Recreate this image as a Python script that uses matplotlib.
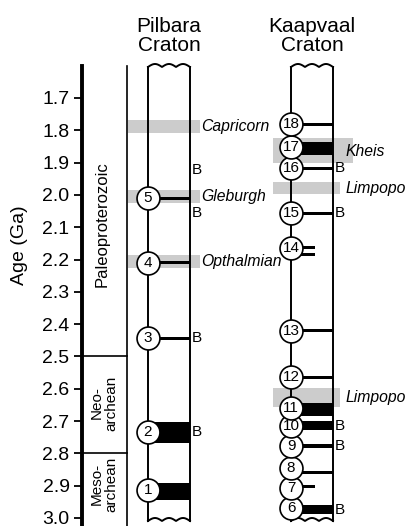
import numpy as np
import matplotlib.pyplot as plt

plt.rcParams['font.family'] = ['Liberation Sans', 'DejaVu Sans']

# age axis
tick_ages = [1.7, 1.8, 1.9, 2.0, 2.1, 2.2, 2.3, 2.4, 2.5, 2.6, 2.7, 2.8, 2.9, 3.0]
era_bounds = [2.5, 2.8]

# Pilbara craton events
pil_num = [1, 2, 3, 4, 5]
pil_age = [2.914, 2.734, 2.443, 2.21, 2.01]
pil_bar_age = [2.918, 2.736, 2.443, 2.21, 2.01]
pil_bar_thick = [0.053, 0.065, 0.009, 0.009, 0.009]
pil_b_ages = [1.922, 2.056, 2.443, 2.734]

# Kaapvaal craton events
kv_num = [6, 7, 8, 9, 10, 11, 12, 13, 14, 15, 16, 17, 18]
kv_age = [2.97, 2.906, 2.846, 2.777, 2.714, 2.661, 2.565, 2.42, 2.165, 2.057, 1.918, 1.851, 1.781]
kv_bar_age = [2.974, 2.903, 2.858, 2.777, 2.714, 2.664, 2.565, 2.42, 2.162, 2.184, 2.057, 1.918, 1.855, 1.781]
kv_bar_thick = [0.028, 0.009, 0.009, 0.013, 0.028, 0.04, 0.009, 0.009, 0.008, 0.008, 0.009, 0.009, 0.04, 0.009]
kv_bar_short = [False, True, False, False, False, False, False, False, True, True, False, False, False, False]
kv_b_ages = [2.974, 2.777, 2.714, 2.057, 1.918]

# orogen bands
pil_bands = ["Capricorn", "Gleburgh", "Opthalmian"]
pil_band_lo = [1.768, 1.985, 2.186]
pil_band_hi = [1.808, 2.025, 2.226]
kv_bands = ["Kheis", "Limpopo", "Limpopo"]
kv_band_lo = [1.824, 1.96, 2.598]
kv_band_hi = [1.901, 1.997, 2.657]
kv_band_text_age = [1.867, 1.979, 2.626]

W, H = 408, 526
px_per_ga = 420 / 1.3
def age_at(p):
    return 1.7 + (p - 98) / px_per_ga

fig = plt.figure(figsize=(W / 100, H / 100), dpi=100)
ax = fig.add_axes([0, 0, 1, 1])
ax.set_xlim(0, W)
ax.set_ylim(age_at(H), age_at(0))
ax.patch.set_alpha(0)
for s in ['top', 'right', 'bottom']:
    ax.spines[s].set_visible(False)
ax.spines['left'].set_position(('data', 82))
ax.spines['left'].set_linewidth(2.8)
ax.spines['left'].set_bounds(age_at(66), age_at(H))
ax.set_xticks([])
ax.set_yticks(tick_ages)
ax.set_yticklabels([f"{t:.1f}" for t in tick_ages])
ax.tick_params(axis='y', length=6, width=1.3, labelsize=14, pad=3)

ax.text(19, age_at(245), "Age (Ga)", rotation=90, ha='center', va='center', fontsize=14)

# era column
ax.plot([127, 127], [age_at(66), age_at(H)], color='black', lw=1.2)
for b in era_bounds:
    ax.plot([82, 127], [b, b], color='black', lw=1.2)
ax.text(102, age_at(224), "Paleoproterozoic", rotation=90, ha='center', va='center', fontsize=12)
ax.text(104, age_at(403), "Neo-\narchean", rotation=90, ha='center', va='center', fontsize=11, linespacing=1.0)
ax.text(104, age_at(484), "Meso-\narchean", rotation=90, ha='center', va='center', fontsize=11, linespacing=1.0)

gray = '#cccccc'
# bands
for name, lo, hi in zip(pil_bands, pil_band_lo, pil_band_hi):
    ax.fill_between([128, 200], lo, hi, color=gray, lw=0, zorder=1)
    ax.text(201, (lo + hi) / 2, name, style='italic', ha='left', va='center', fontsize=11.3, zorder=6)
for name, lo, hi, ta in zip(kv_bands, kv_band_lo, kv_band_hi, kv_band_text_age):
    right = 353 if name == "Kheis" else 340
    ax.fill_between([273, right], lo, hi, color=gray, lw=0, zorder=1)
    ax.text(346, ta, name, style='italic', ha='left', va='center', fontsize=11.3, zorder=6)

# craton columns
def column(xl, xr, label, xc):
    top, bot = age_at(67), age_at(521)
    ax.plot([xl, xl], [top, bot], color='black', lw=1.4, zorder=2)
    ax.plot([xr, xr], [top, bot], color='black', lw=1.4, zorder=2)
    t = np.linspace(0, 1, 120)
    xs = xl + (xr - xl) * t
    wave = np.abs(np.sin(3 * np.pi * t)) * 3.0 / px_per_ga
    ax.plot(xs, top - wave, color='black', lw=1.4, zorder=2)
    ax.plot(xs, bot - wave, color='black', lw=1.4, zorder=2, clip_on=False)
    ax.text(xc, age_at(36), label, ha='center', va='center', fontsize=15, linespacing=1.0)

column(148, 190, "Pilbara\nCraton", 169)
column(291, 333, "Kaapvaal\nCraton", 312)

# Pilbara bars, circles, B
for a, th in zip(pil_bar_age, pil_bar_thick):
    ax.barh(a, 190 - 148, height=th, left=148, color='black', zorder=3)
ax.plot([148] * len(pil_age), pil_age, 'o', ms=16.5, mfc='white', mec='black', mew=1.2, zorder=4)
for n, a in zip(pil_num, pil_age):
    ax.text(148, a, str(n), ha='center', va='center', fontsize=11, zorder=5)
for a in pil_b_ages:
    ax.text(192, a, "B", ha='left', va='center', fontsize=11)

# Kaapvaal bars, circles, B
for a, th, short in zip(kv_bar_age, kv_bar_thick, kv_bar_short):
    right = 315 if short else 333
    ax.barh(a, right - 291, height=th, left=291, color='black', zorder=3)
ax.plot([291] * len(kv_age), kv_age, 'o', ms=16.5, mfc='white', mec='black', mew=1.2, zorder=4)
for n, a in zip(kv_num, kv_age):
    ax.text(291, a, str(n), ha='center', va='center', fontsize=11, zorder=5)
for a in kv_b_ages:
    ax.text(335, a, "B", ha='left', va='center', fontsize=11)

fig.savefig("out.png", dpi=100)
